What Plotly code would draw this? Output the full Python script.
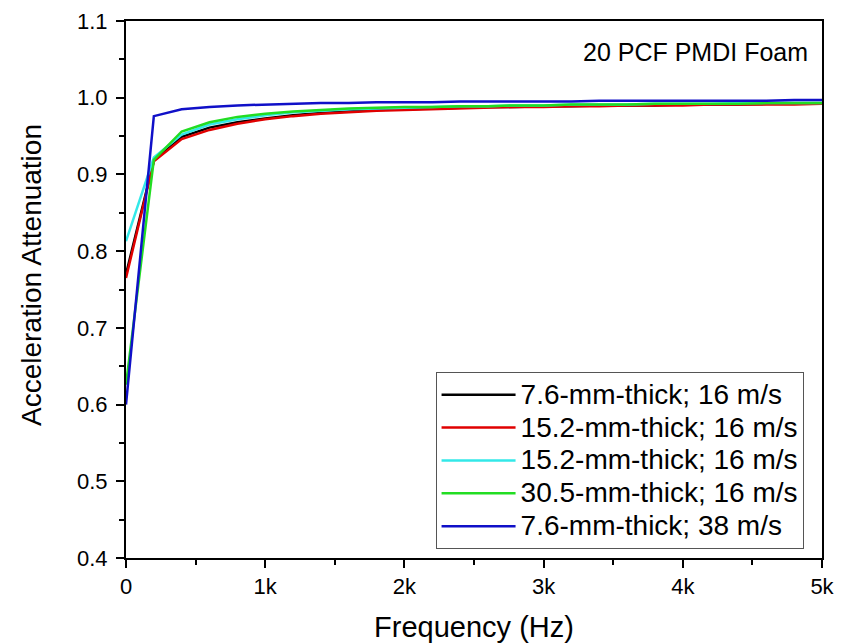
import plotly.graph_objects as go

freq_hz = [0, 200, 400, 600, 800, 1000, 1200, 1400, 1600, 1800, 2000, 2200, 2400,
           2600, 2800, 3000, 3200, 3400, 3600, 3800, 4000, 4200, 4400, 4600, 4800, 5000]

att_76_16 = [0.770, 0.918, 0.949, 0.961, 0.968, 0.973, 0.977, 0.980, 0.982, 0.984, 0.985, 0.986, 0.987,
             0.988, 0.988, 0.989, 0.989, 0.990, 0.990, 0.990, 0.991, 0.991, 0.991, 0.992, 0.992, 0.992]
att_152_16a = [0.765, 0.917, 0.946, 0.958, 0.966, 0.972, 0.976, 0.979, 0.981, 0.983, 0.984, 0.985, 0.986,
               0.987, 0.988, 0.988, 0.989, 0.989, 0.990, 0.990, 0.990, 0.991, 0.991, 0.991, 0.991, 0.992]
att_152_16b = [0.813, 0.922, 0.952, 0.965, 0.972, 0.977, 0.981, 0.983, 0.985, 0.986, 0.987, 0.988, 0.989,
               0.989, 0.990, 0.990, 0.991, 0.991, 0.991, 0.992, 0.992, 0.992, 0.993, 0.993, 0.993, 0.993]
att_305_16 = [0.626, 0.919, 0.956, 0.968, 0.975, 0.979, 0.982, 0.984, 0.986, 0.987, 0.988, 0.988, 0.989,
              0.989, 0.990, 0.990, 0.991, 0.991, 0.991, 0.992, 0.992, 0.992, 0.992, 0.993, 0.993, 0.993]
att_76_38 = [0.600, 0.976, 0.985, 0.988, 0.990, 0.991, 0.992, 0.993, 0.993, 0.994, 0.994, 0.994, 0.995,
             0.995, 0.995, 0.995, 0.995, 0.996, 0.996, 0.996, 0.996, 0.996, 0.996, 0.996, 0.997, 0.997]

series_names = ["7.6-mm-thick; 16 m/s", "15.2-mm-thick; 16 m/s", "15.2-mm-thick; 16 m/s",
                "30.5-mm-thick; 16 m/s", "7.6-mm-thick; 38 m/s"]
series_values = [att_76_16, att_152_16a, att_152_16b, att_305_16, att_76_38]
series_colors = ["#000000", "#e00000", "#33e8e8", "#22dd22", "#1010c8"]

x_tick_vals = [0, 1000, 2000, 3000, 4000, 5000]
x_tick_text = ["0", "1k", "2k", "3k", "4k", "5k"]

FONT = "Liberation Sans, Arial, sans-serif"

fig = go.Figure()
for name, vals, col in zip(series_names, series_values, series_colors):
    fig.add_trace(go.Scatter(x=freq_hz, y=vals, mode="lines",
                             name='<span style="font-size:28px">' + name + '</span>',
                             line=dict(color=col, width=2.5)))

axis_common = dict(showline=True, linecolor="black", linewidth=2, mirror=True,
                   ticks="outside", ticklen=8, tickwidth=2, tickcolor="black",
                   showgrid=False, zeroline=False, automargin=False,
                   tickfont=dict(family=FONT, size=22, color="black"))

fig.update_xaxes(range=[0, 5000], tickvals=x_tick_vals, ticktext=x_tick_text,
                 minor=dict(ticks="outside", ticklen=5, tickwidth=2, tickcolor="black", dtick=500, tick0=0),
                 title=dict(text="Frequency (Hz)", font=dict(family=FONT, size=29, color="black"), standoff=20),
                 **axis_common)
fig.update_yaxes(range=[0.4, 1.1], dtick=0.1, tick0=0.4, tickformat=".1f", ticklabelstandoff=4,
                 minor=dict(ticks="outside", ticklen=5, tickwidth=2, tickcolor="black", dtick=0.05, tick0=0.4),
                 **axis_common)

# y-axis title (placed slightly above centre, as in the reference)
fig.add_annotation(x=-0.1365, y=0.527, xref="paper", yref="paper", xanchor="center", yanchor="middle",
                   text="Acceleration Attenuation", textangle=-90, showarrow=False,
                   font=dict(family=FONT, size=28, color="black"))

fig.add_annotation(x=0.983, y=0.942, xref="paper", yref="paper", xanchor="right", yanchor="middle",
                   text="20 PCF PMDI Foam", showarrow=False,
                   font=dict(family=FONT, size=25, color="black"))

fig.update_layout(
    width=842, height=635,
    margin=dict(l=118, r=28, t=13, b=85),
    paper_bgcolor="white", plot_bgcolor="white",
    showlegend=True,
    legend=dict(x=0.9735, y=0.346, xanchor="right", yanchor="top",
                bgcolor="white", bordercolor="#555555", borderwidth=1,
                font=dict(family=FONT, size=23, color="black"),
                tracegroupgap=0, itemwidth=74),
)

fig.write_html("out.html")
